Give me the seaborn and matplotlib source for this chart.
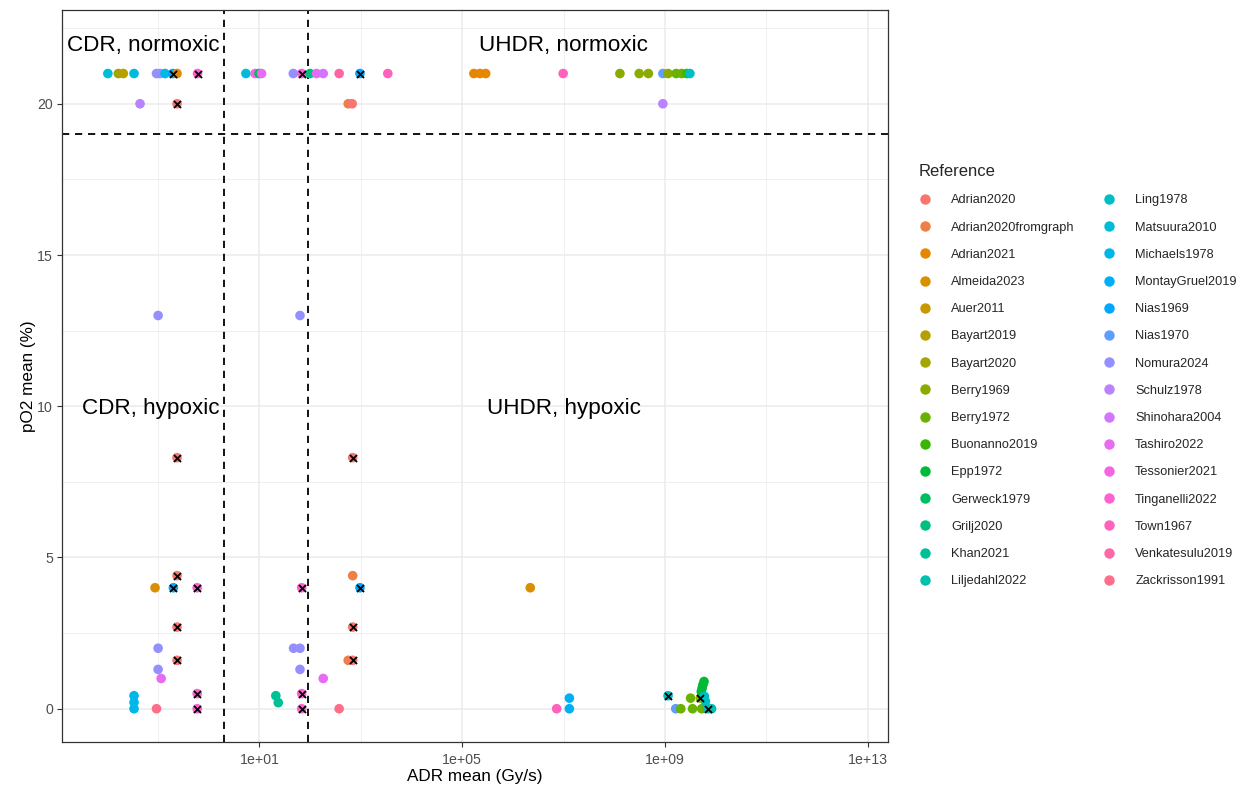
import numpy as np
import pandas as pd
import matplotlib
matplotlib.use("Agg")
import matplotlib.pyplot as plt
import seaborn as sns

# ---- data -------------------------------------------------------------
references = [
    "Adrian2020", "Adrian2020fromgraph", "Adrian2021", "Almeida2023", "Auer2011",
    "Bayart2019", "Bayart2020", "Berry1969", "Berry1972", "Buonanno2019",
    "Epp1972", "Gerweck1979", "Grilj2020", "Khan2021", "Liljedahl2022",
    "Ling1978", "Matsuura2010", "Michaels1978", "MontayGruel2019", "Nias1969",
    "Nias1970", "Nomura2024", "Schulz1978", "Shinohara2004", "Tashiro2022",
    "Tessonier2021", "Tinganelli2022", "Town1967", "Venkatesulu2019", "Zackrisson1991",
]

point_ref = [
    # normoxic, 21 %
    "Matsuura2010", "Bayart2020", "Bayart2019", "Matsuura2010", "Nomura2024",
    "Nomura2024", "Michaels1978", "Nias1969", "Adrian2021", "Tinganelli2022",
    "Matsuura2010", "Tessonier2021", "Gerweck1979", "Tashiro2022", "Nomura2024",
    "Tinganelli2022", "Grilj2020", "Tashiro2022", "Shinohara2004", "Venkatesulu2019",
    "Nias1969", "Town1967", "Adrian2021", "Adrian2021", "Adrian2021",
    "Town1967", "Berry1969", "Berry1969", "Berry1969", "Nias1970",
    "Berry1969", "Berry1972", "Berry1972", "Buonanno2019", "Ling1978",
    # 20 %
    "Schulz1978", "Adrian2020", "Adrian2020fromgraph", "Adrian2020", "Schulz1978",
    # 13 %
    "Nomura2024", "Nomura2024",
    # hypoxic, conventional dose rate
    "Adrian2020", "Adrian2020", "Adrian2020", "Adrian2020", "Almeida2023",
    "Nias1969", "Tinganelli2022", "Tinganelli2022", "Tinganelli2022", "Nomura2024",
    "Nomura2024", "Tashiro2022", "Michaels1978", "Michaels1978", "Michaels1978",
    "Zackrisson1991",
    # hypoxic, intermediate dose rate
    "Adrian2020", "Adrian2020fromgraph", "Nias1969", "Tinganelli2022", "Adrian2020",
    "Nomura2024", "Nomura2024", "Adrian2020fromgraph", "Adrian2020", "Nomura2024",
    "Tashiro2022", "Khan2021", "Khan2021", "Tinganelli2022", "Tinganelli2022",
    "Zackrisson1991",
    # hypoxic, ultra-high dose rate
    "Almeida2023", "Town1967", "MontayGruel2019", "MontayGruel2019", "Ling1978",
    "Nias1970", "Berry1972", "Berry1972", "Berry1972", "Berry1972",
    "Berry1969", "Epp1972", "Epp1972", "Epp1972", "Epp1972",
    "Ling1978", "Ling1978", "Ling1978", "Liljedahl2022",
]

adr_mean = [
    0.0102, 0.0164, 0.0206, 0.0335, 0.093,
    0.109, 0.137, 0.195, 0.236, 0.60,
    5.4, 8.2, 9.8, 11.0, 46.5,
    68.0, 99.0, 134.0, 181.0, 373.0,
    960.0, 3400.0, 1.7e5, 2.24e5, 2.9e5,
    9.8e6, 1.29e8, 3.1e8, 4.7e8, 9.1e8,
    1.15e9, 1.66e9, 2.14e9, 2.7e9, 3.1e9,
    0.044, 0.236, 563.0, 675.0, 9.1e8,
    0.1, 63.0,
    0.236, 0.236, 0.236, 0.236, 0.087,
    0.2, 0.59, 0.59, 0.59, 0.1,
    0.1, 0.115, 0.0335, 0.0335, 0.0335,
    0.093,
    690.0, 690.0, 960.0, 68.0, 690.0,
    47.0, 63.0, 563.0, 690.0, 63.0,
    181.0, 21.0, 23.5, 68.0, 68.0,
    373.0,
    2.2e6, 7.3e6, 1.3e7, 1.3e7, 1.15e9,
    1.63e9, 2.05e9, 3.2e9, 3.5e9, 5.3e9,
    5.0e9, 5.9e9, 5.6e9, 5.4e9, 5.2e9,
    6.0e9, 6.3e9, 7.0e9, 8.3e9,
]

po2_mean = [
    21, 21, 21, 21, 21,
    21, 21, 21, 21, 21,
    21, 21, 21, 21, 21,
    21, 21, 21, 21, 21,
    21, 21, 21, 21, 21,
    21, 21, 21, 21, 21,
    21, 21, 21, 21, 21,
    20, 20, 20, 20, 20,
    13, 13,
    8.3, 4.4, 2.7, 1.6, 4.0,
    4.0, 4.0, 0.5, 0.0, 2.0,
    1.3, 1.0, 0.43, 0.21, 0.0,
    0.0,
    8.3, 4.4, 4.0, 4.0, 2.7,
    2.0, 2.0, 1.6, 1.6, 1.3,
    1.0, 0.43, 0.2, 0.5, 0.0,
    0.0,
    4.0, 0.0, 0.35, 0.0, 0.43,
    0.0, 0.0, 0.35, 0.0, 0.0,
    0.35, 0.9, 0.79, 0.68, 0.57,
    0.41, 0.24, 0.0, 0.0,
]

crossed = [
    0, 0, 0, 0, 0,
    0, 0, 1, 0, 1,
    0, 0, 0, 0, 0,
    1, 0, 0, 0, 0,
    1, 0, 0, 0, 0,
    0, 0, 0, 0, 0,
    0, 0, 0, 0, 0,
    0, 1, 0, 0, 0,
    0, 0,
    1, 1, 1, 1, 0,
    1, 1, 1, 1, 0,
    0, 0, 0, 0, 0,
    0,
    1, 0, 1, 1, 1,
    0, 0, 0, 1, 0,
    0, 0, 0, 1, 1,
    0,
    0, 0, 0, 0, 1,
    0, 0, 0, 0, 0,
    1, 0, 0, 0, 0,
    0, 0, 1, 0,
]

region_labels = ["CDR, normoxic", "UHDR, normoxic", "CDR, hypoxic", "UHDR, hypoxic"]
region_adr = [0.05, 1e7, 0.07, 1e7]
region_po2 = [22, 22, 10, 10]

adr_thresholds = [2.0, 90.0]
po2_threshold = 19

df = pd.DataFrame({"Reference": point_ref, "ADR": adr_mean,
                   "pO2": po2_mean, "crossed": crossed})


# ---- ggplot-style hue palette (HCL, c=100, l=65) -------------------------
def hcl_hex(h, c=100.0, l=65.0):
    hr = np.deg2rad(h)
    u, v = c * np.cos(hr), c * np.sin(hr)
    xn, yn, zn = 95.047, 100.0, 108.883
    un = 4 * xn / (xn + 15 * yn + 3 * zn)
    vn = 9 * yn / (xn + 15 * yn + 3 * zn)
    y = yn * ((l + 16) / 116) ** 3
    up = u / (13 * l) + un
    vp = v / (13 * l) + vn
    x = 9 * y * up / (4 * vp)
    z = -x / 3 - 5 * y + 3 * y / vp
    x, y, z = x / 100, y / 100, z / 100
    r = 3.240479 * x - 1.537150 * y - 0.498535 * z
    g = -0.969256 * x + 1.875992 * y + 0.041556 * z
    b = 0.055648 * x - 0.204043 * y + 1.057311 * z

    def gam(t):
        t = 12.92 * t if t <= 0.0031308 else 1.055 * t ** (1 / 2.4) - 0.055
        return min(max(t, 0.0), 1.0)

    return "#{:02X}{:02X}{:02X}".format(*(int(round(gam(t) * 255)) for t in (r, g, b)))


n = len(references)
palette = {ref: hcl_hex(15 + 360 * i / n) for i, ref in enumerate(references)}

# ---- figure ---------------------------------------------------------------
sns.set_style("white")
plt.rcParams["font.family"] = ["Liberation Sans", "DejaVu Sans"]

fig = plt.figure(figsize=(12.36, 7.87), dpi=100)
ax = fig.add_axes([62 / 1236, 1 - 742 / 787, (888 - 62) / 1236, (742 - 10) / 787])

ax.set_xscale("log")
ax.set_xlim(10 ** -2.896, 10 ** 13.40)
ax.set_ylim(-1.1, 23.1)

# grid (major + minor, theme_bw look)
for xv in [1e1, 1e5, 1e9, 1e13]:
    ax.axvline(xv, color="#EBEBEB", lw=1.1, zorder=0)
for xv in [1e-1, 1e3, 1e7, 1e11]:
    ax.axvline(xv, color="#EBEBEB", lw=0.55, zorder=0)
for yv in [0, 5, 10, 15, 20]:
    ax.axhline(yv, color="#EBEBEB", lw=1.1, zorder=0)
for yv in [2.5, 7.5, 12.5, 17.5, 22.5]:
    ax.axhline(yv, color="#EBEBEB", lw=0.55, zorder=0)

sns.scatterplot(data=df, x="ADR", y="pO2", hue="Reference", hue_order=references,
                palette=palette, s=48, linewidth=0, alpha=1.0, ax=ax, zorder=3,
                legend=True)

flag = df[df["crossed"] == 1]
ax.scatter(flag["ADR"], flag["pO2"], marker="x", color="black", s=26,
           linewidths=1.3, zorder=4)

for xv in adr_thresholds:
    ax.axvline(xv, color="black", lw=1.3, ls=(0, (4, 3.2)), zorder=2)
ax.axhline(po2_threshold, color="black", lw=1.3, ls=(0, (4, 3.2)), zorder=2)

for lab, xv, yv in zip(region_labels, region_adr, region_po2):
    ax.text(xv, yv, lab, ha="center", va="center_baseline", fontsize=16.2,
            color="black", zorder=5)

ax.set_xticks([1e1, 1e5, 1e9, 1e13])
ax.set_xticklabels(["1e+01", "1e+05", "1e+09", "1e+13"])
ax.xaxis.set_minor_locator(matplotlib.ticker.NullLocator())
ax.set_yticks([0, 5, 10, 15, 20])
ax.set_yticklabels(["0", "5", "10", "15", "20"])
ax.tick_params(axis="both", which="major", length=3.5, width=0.8, color="#333333",
               labelsize=10.2, labelcolor="#4D4D4D", direction="out",
               bottom=True, left=True)
ax.tick_params(axis="x", pad=4.5)
ax.tick_params(axis="y", pad=3)
for sp in ax.spines.values():
    sp.set_color("#333333")
    sp.set_linewidth(0.9)
ax.set_xlabel("ADR mean (Gy/s)", fontsize=12.3, color="black", labelpad=1.5)
ax.set_ylabel("pO2 mean (%)", fontsize=12.3, color="black", labelpad=0.5)

# legend outside the panel, two columns
handles, labels = ax.get_legend_handles_labels()
ax.get_legend().remove()
for h in handles:
    h.set_markersize(7.5)
leg = fig.legend(handles, labels, title="Reference", ncol=2, frameon=False,
                 loc="upper left", bbox_to_anchor=(908 / 1236, 1 - 154 / 787),
                 fontsize=9.2, title_fontsize=12, handlelength=1.0,
                 handletextpad=1.58, labelspacing=1.19, columnspacing=2.15,
                 borderpad=0.3, alignment="left")

fig.savefig("out.png", dpi=100)
